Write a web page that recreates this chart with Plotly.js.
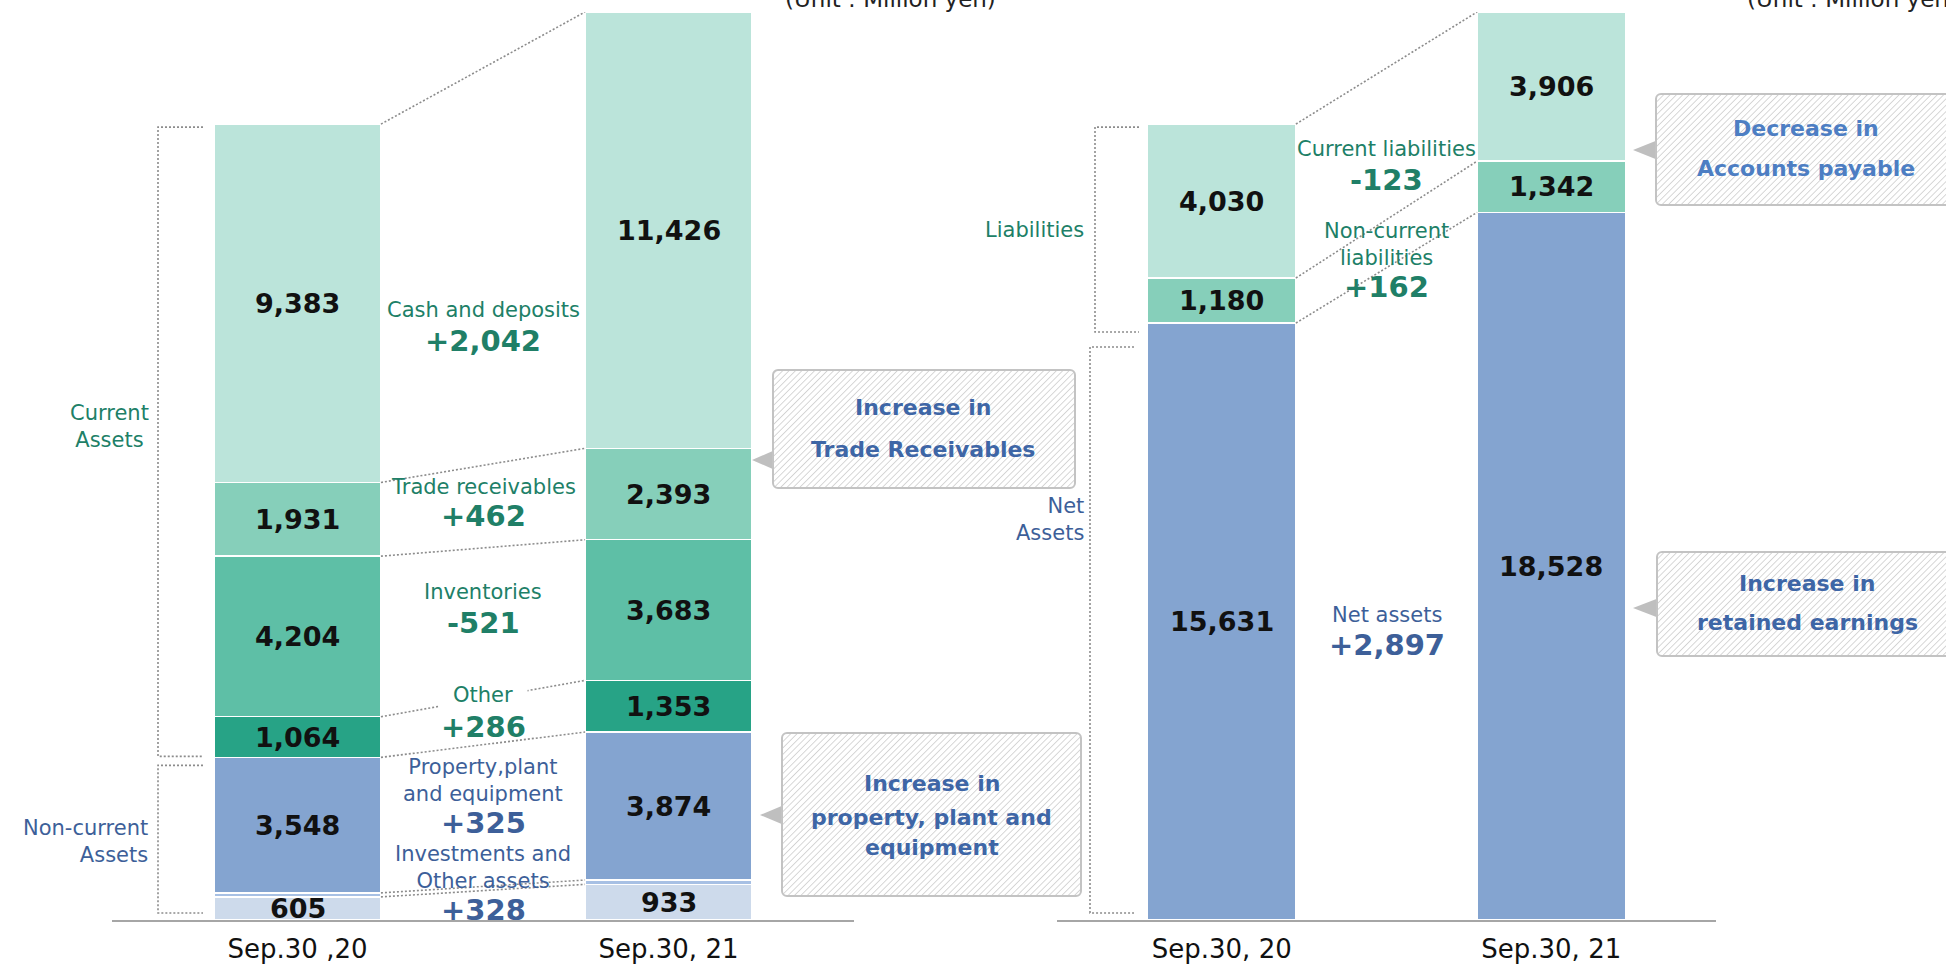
<!DOCTYPE html>
<html>
<head>
<meta charset="utf-8">
<script src="https://cdn.plot.ly/plotly-3.0.1.min.js"></script>
<style>
  html, body { margin: 0; padding: 0; background: #fff; }
  #chart { width: 1946px; height: 966px; }
</style>
</head>
<body>
<div id="chart"></div>
<script>
// balance sheet comparison, million yen
const periodsL = ["Sep.30 ,20", "Sep.30, 21"];
const periodsR = ["Sep.30, 20", "Sep.30, 21"];

// assets, stacked from the bottom
const investments = [605, 933];
const intangibles = [106, 114];      // thin unlabelled band between the blue blocks
const ppe = [3548, 3874];
const otherCurrent = [1064, 1353];
const inventories = [4204, 3683];
const receivables = [1931, 2393];
const cash = [9383, 11426];

// liabilities and net assets, stacked from the bottom
const netAssets = [15631, 18528];
const nonCurrentLiab = [1180, 1342];
const currentLiab = [4030, 3906];

// change captions as printed between the bars
const assetItems = ["Cash and deposits", "Trade receivables", "Inventories", "Other",
  "Property,plant<br>and equipment", "Investments and<br>Other assets"];
const assetChanges = ["+2,042", "+462", "-521", "+286", "+325", "+328"];
const liabItems = ["Current liabilities", "Non-current<br>liabilities", "Net assets"];
const liabChanges = ["-123", "+162", "+2,897"];

const W = 1946, H = 966;
const TOP = 12, BASE = 920, PLOT_H = BASE - TOP;
const FONT = "DejaVu Sans, Verdana, sans-serif";
const GREEN = "#207f67", BLUE = "#3d5f99";
const BAR_W = 0.45;

const sum = a => a.reduce((s, v) => s + v, 0);
const assetStack = [investments, intangibles, ppe, otherCurrent, inventories, receivables, cash];
const assetColors = ["#cddaeb", "#a7c0e4", "#84a4d0", "#27a386", "#5ebfa6", "#86cfba", "#bbe4da"];
const assetLabelled = [true, false, true, true, true, true, true];
const liabStack = [netAssets, nonCurrentLiab, currentLiab];
const liabColors = ["#84a4d0", "#86cfba", "#bbe4da"];

const total = (stack, i) => sum(stack.map(s => s[i]));
const yMax = Math.max(total(assetStack, 1), total(liabStack, 1));
const dy = p => p * yMax / PLOT_H;       // pixels -> value units
const px = v => v / W;                   // pixel x -> paper
const py = v => (BASE - v) / PLOT_H;     // pixel y -> paper

function tops(stack, i) {
  let c = 0;
  return stack.map(s => (c += s[i]));
}

function barTrace(vals, color, xa, ya) {
  return {
    type: "bar", x: [0, 1], y: vals, width: BAR_W, xaxis: xa, yaxis: ya,
    marker: { color: color, line: { color: "#fff", width: 1.5 } },
    hoverinfo: "skip", showlegend: false
  };
}

const traces = [];
assetStack.forEach((v, k) => traces.push(barTrace(v, assetColors[k], "x", "y")));
liabStack.forEach((v, k) => traces.push(barTrace(v, liabColors[k], "x2", "y2")));

const annotations = [];
const shapes = [];
const images = [];

function note(text, x, y, o) {
  annotations.push(Object.assign({
    text: text, x: x, y: y, xref: "paper", yref: "paper", showarrow: false,
    xanchor: "center", yanchor: "middle",
    font: { family: FONT, size: 21, color: GREEN }
  }, o || {}));
}

// numbers inside the segments
function valueLabels(stack, labelled, xref, yref) {
  [0, 1].forEach(i => {
    let base = 0;
    stack.forEach((s, k) => {
      if (labelled[k]) {
        note(s[i].toLocaleString("en-US"), i, base + s[i] / 2, {
          xref: xref, yref: yref,
          font: { family: FONT, size: 27, weight: "bold", color: "#111" }
        });
      }
      base += s[i];
    });
  });
}
valueLabels(assetStack, assetLabelled, "x", "y");
valueLabels(liabStack, [true, true, true], "x2", "y2");

// dotted connectors between matching boundaries
function connectors(stack, xref, yref) {
  const a = tops(stack, 0), b = tops(stack, 1);
  a.forEach((v, k) => shapes.push({
    type: "line", xref: xref, yref: yref,
    x0: BAR_W / 2, x1: 1 - BAR_W / 2, y0: v, y1: b[k],
    line: { color: "#8c8c8c", width: 1.6, dash: "2px,2px" }
  }));
}
connectors(assetStack, "x", "y");
connectors(liabStack, "x2", "y2");

// dotted brackets at the left of each chart
function bracket(xIn, xOut, y0, y1, yref) {
  shapes.push({
    type: "path", xref: "paper", yref: yref,
    path: `M ${px(xOut)},${y0} L ${px(xIn)},${y0} L ${px(xIn)},${y1} L ${px(xOut)},${y1}`,
    line: { color: "#8c8c8c", width: 1.6, dash: "2px,2px" }
  });
}
const aTop0 = total(assetStack, 0);
const nonCur0 = investments[0] + intangibles[0] + ppe[0];
bracket(158, 203, aTop0 - dy(3), nonCur0 + dy(1), "y");
bracket(158, 203, nonCur0 - dy(8), dy(7), "y");
bracket(1095, 1139, total(liabStack, 0) - dy(3), netAssets[0] + dy(-9), "y2");
bracket(1090, 1134, netAssets[0] - dy(24), dy(7), "y2");

// group captions
note("Current<br>Assets", px(109), py(426));
note("Non-current<br>Assets", px(150), py(841), { xanchor: "right", align: "right", font: { family: FONT, size: 21, color: BLUE } });
note("Liabilities", px(1086), py(230), { xanchor: "right" });
note("Net<br>Assets", px(1086), py(519), { xanchor: "right", align: "right", font: { family: FONT, size: 21, color: BLUE } });

// change captions between the bars
const assetNameY = [310, 487, 592, 695, 780, 867];
const assetDeltaY = [341, 516, 623, 727, 823, 910];
const assetTone = [GREEN, GREEN, GREEN, GREEN, BLUE, BLUE];
assetItems.forEach((t, k) => {
  const extra = k === 3 ? { bgcolor: "#fff", borderpad: 14 } : {};
  note(t, 0.5, py(assetNameY[k]), Object.assign({ xref: "x", font: { family: FONT, size: 21, color: assetTone[k] } }, extra));
  note(assetChanges[k], 0.5, py(assetDeltaY[k]), { xref: "x", font: { family: FONT, size: 29, weight: "bold", color: assetTone[k] } });
});
const liabNameY = [149, 244, 615];
const liabDeltaY = [180, 287, 645];
const liabTone = [GREEN, GREEN, BLUE];
liabItems.forEach((t, k) => {
  note(t, 0.5, py(liabNameY[k]), { xref: "x2", font: { family: FONT, size: 21, color: liabTone[k] } });
  note(liabChanges[k], 0.5, py(liabDeltaY[k]), { xref: "x2", font: { family: FONT, size: 29, weight: "bold", color: liabTone[k] } });
});

// unit notes, clipped at the top edge like the slide
note("(Unit : Million yen)", px(783), py(14), { xanchor: "left", yanchor: "bottom", font: { family: FONT, size: 23, color: "#222" } });
note("(Unit : Million yen)", px(1745), py(14), { xanchor: "left", yanchor: "bottom", font: { family: FONT, size: 23, color: "#222" } });

// hatched callout boxes with a grey pointer
function callout(tipX, boxX, right, top, bottom, tipY, lines, lineY, color) {
  const w = right - tipX, h = bottom - top, tri = boxX - tipX, ty = tipY - top;
  const svg = `<svg xmlns='http://www.w3.org/2000/svg' width='${w}' height='${h}' viewBox='0 0 ${w} ${h}'>` +
    `<defs><pattern id='p' width='4.5' height='4.5' patternUnits='userSpaceOnUse' patternTransform='rotate(45)'>` +
    `<line x1='0' y1='0' x2='0' y2='4.5' stroke='#bcbcbc' stroke-width='1.2'/></pattern></defs>` +
    `<polygon points='0,${ty} ${tri + 3},${ty - 10} ${tri + 3},${ty + 10}' fill='#bfbfbf'/>` +
    `<rect x='${tri + 1}' y='1' width='${w - tri - 2}' height='${h - 2}' rx='5' fill='#fff'/>` +
    `<rect x='${tri + 1}' y='1' width='${w - tri - 2}' height='${h - 2}' rx='5' fill='url(#p)' stroke='#c3c3c3' stroke-width='2'/>` +
    `</svg>`;
  images.push({
    source: "data:image/svg+xml;charset=utf-8," + encodeURIComponent(svg),
    xref: "paper", yref: "paper", x: px(tipX), y: py(top), sizex: w / W, sizey: h / PLOT_H,
    xanchor: "left", yanchor: "top", sizing: "stretch", layer: "above"
  });
  const cx = Math.min((boxX + right) / 2, boxX + 151);
  lines.forEach((t, k) => note(t, px(cx), py(lineY[k]), {
    font: { family: FONT, size: 22, weight: "bold", color: color }
  }));
}
callout(752, 772, 1076, 369, 489, 460, ["Increase in", "Trade Receivables"], [408, 449], "#3e66a6");
callout(760, 781, 1082, 732, 897, 815, ["Increase in", "property, plant and", "equipment"], [783, 817, 847], "#3e66a6");
callout(1633, 1655, 1960, 93, 206, 150, ["Decrease in", "Accounts payable"], [129, 169], "#4d7ec3");
callout(1633, 1656, 1960, 551, 657, 608, ["Increase in", "retained earnings"], [583, 622], "#3e66a6");

function xAxis(domain, labels, anchor) {
  return {
    domain: domain, anchor: anchor, range: [-0.5, 1.5], tickvals: [0, 1], ticktext: labels,
    showline: true, linecolor: "#a6a6a6", linewidth: 2, showgrid: false, zeroline: false,
    ticks: "", ticklabelstandoff: 5, tickfont: { family: FONT, size: 26, color: "#111" }, fixedrange: true
  };
}

const layout = {
  width: W, height: H,
  margin: { l: 0, r: 0, t: TOP, b: H - BASE },
  paper_bgcolor: "#fff", plot_bgcolor: "rgba(0,0,0,0)",
  barmode: "stack", showlegend: false,
  xaxis: xAxis([px(112), px(854)], periodsL, "y"),
  yaxis: { range: [0, yMax], visible: false, anchor: "x", fixedrange: true },
  xaxis2: xAxis([px(1057), px(1716)], periodsR, "y2"),
  yaxis2: { range: [0, yMax], visible: false, anchor: "x2", fixedrange: true },
  annotations: annotations, shapes: shapes, images: images
};

Plotly.newPlot("chart", traces, layout, { staticPlot: true, displayModeBar: false });
</script>
</body>
</html>
